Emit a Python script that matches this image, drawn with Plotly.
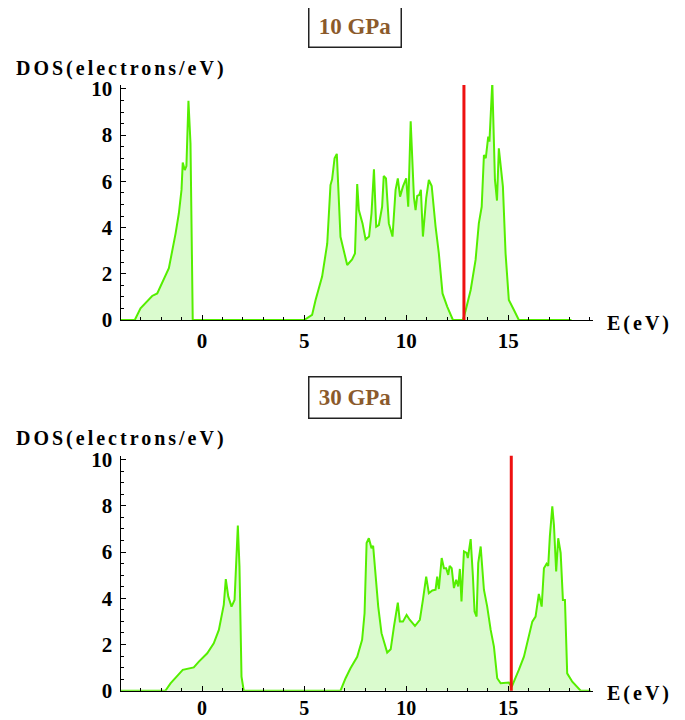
import plotly.graph_objects as go

# ---------------- data ----------------
E_10 = [-4.0, -3.3, -3.02, -2.45, -2.2, -1.63, -1.3, -1.14, -1.01, -0.95, -0.85, -0.77, -0.67, -0.57, -0.46,
        5.0, 5.39, 5.56, 5.88, 6.13, 6.29, 6.37, 6.49, 6.6, 6.78, 7.11, 7.35, 7.49, 7.6, 7.68, 7.86, 8.01,
        8.18, 8.3, 8.42, 8.53, 8.66, 8.82, 8.9, 9.01, 9.15, 9.33, 9.48, 9.59, 9.7, 9.84, 10.0, 10.1, 10.22,
        10.38, 10.46, 10.54, 10.64, 10.72, 10.82, 10.98, 11.11, 11.25, 11.44, 11.6, 11.78, 12.01, 12.29,
        12.78, 12.91, 13.16, 13.4, 13.56, 13.7, 13.81, 13.9, 14.02, 14.08, 14.22, 14.35, 14.45, 14.54,
        14.74, 14.87, 15.03, 15.28, 15.52, 18.1]
DOS_10 = [0.0, 0.0, 0.51, 1.04, 1.15, 2.24, 3.75, 4.62, 5.63, 6.81, 6.49, 6.66, 9.49, 7.65, 0.0,
          0.0, 0.22, 0.87, 1.88, 3.3, 5.84, 6.09, 7.0, 7.19, 3.6, 2.38, 2.62, 2.88, 5.88, 4.76, 4.18, 3.49,
          3.61, 4.62, 6.52, 4.04, 4.11, 4.9, 6.23, 6.13, 4.18, 3.61, 5.63, 6.13, 5.34, 5.77, 6.13, 4.9, 8.6,
          5.3, 4.76, 5.37, 5.41, 5.63, 3.61, 5.27, 6.06, 5.8, 4.04, 2.88, 1.15, 0.58, 0.0,
          0.0, 0.4, 1.3, 2.6, 4.18, 4.9, 7.14, 7.0, 7.94, 7.72, 10.3, 6.06, 5.17, 7.43,
          5.77, 2.88, 0.87, 0.43, 0.0, 0.0]

E_30 = [-4.0, -1.8, -1.55, -1.23, -0.95, -0.41, -0.16, 0.25, 0.57, 0.82, 0.98, 1.06, 1.16, 1.28, 1.44,
        1.59, 1.75, 1.83, 1.93, 2.04,
        6.78, 7.03, 7.27, 7.6, 7.84, 7.96, 8.06, 8.17, 8.3, 8.38, 8.63, 8.79, 9.07, 9.24, 9.4, 9.59, 9.69,
        9.84, 10.02, 10.17, 10.43, 10.67, 10.82, 10.98, 11.11, 11.28, 11.44, 11.52, 11.6, 11.74, 11.85,
        11.96, 12.06, 12.13, 12.23, 12.34, 12.45, 12.55, 12.63, 12.71, 12.83, 12.96, 13.02, 13.16, 13.27,
        13.35, 13.45, 13.53, 13.65, 13.81, 13.97, 14.14, 14.3, 14.46, 14.63, 15.03, 15.17, 15.28, 15.52,
        15.77, 15.98, 16.18, 16.34, 16.5, 16.64, 16.75, 16.88, 16.96, 17.04, 17.16, 17.24, 17.35, 17.45,
        17.57, 17.68, 17.78, 17.89, 18.14, 18.55, 19.04]
DOS_30 = [0.0, 0.0, 0.32, 0.61, 0.9, 1.01, 1.26, 1.62, 2.05, 2.63, 3.35, 3.71, 4.83, 4.08, 3.64,
          3.93, 7.15, 5.38, 0.61, 0.0,
          0.0, 0.54, 0.97, 1.47, 2.2, 3.35, 6.39, 6.6, 6.17, 6.27, 3.64, 2.49, 1.65, 1.79, 2.77, 3.81, 2.99,
          2.99, 3.28, 3.07, 2.8, 3.07, 3.93, 4.94, 4.22, 4.34, 4.37, 4.94, 4.4, 5.74, 5.3,
          5.3, 5.01, 5.4, 5.3, 4.44, 4.8, 4.51, 5.27, 3.86, 6.03, 5.96, 5.74, 6.56, 4.94,
          3.43, 3.21, 5.52, 6.24, 4.37, 3.64, 2.63, 1.91, 0.54, 0.32, 0.35, 0.17, 0.39, 0.9,
          1.47, 2.2, 2.99, 3.21, 4.19, 3.64, 5.3, 5.49, 5.4, 6.68, 7.98, 7.18, 5.16, 6.6,
          5.96, 3.93, 3.93, 0.75, 0.39, 0.0, 0.0]

FERMI = [12.83, 15.15]
PANEL_TITLES = ["10 GPa", "30 GPa"]
X_TICKS = [0, 5, 10, 15]
Y_TICKS = [0, 2, 4, 6, 8, 10]
X_RANGE = [-4, 19.14]
Y_RANGE = [0, 10.17]

# ---------------- style ----------------
LINE = "#55ee00"
FILL = "rgba(205,250,190,0.75)"
RED = "#ee1111"
BROWN = "#8b5a2b"
FONT = "Liberation Serif"

W, H = 685, 720
OFF = 8  # page body margin


def px(x):
    return (x - OFF) / W


def py(y):
    return (H - (y - OFF)) / H


x_dom = [px(120.5), px(592.7)]
y_doms = [[py(320), py(85)], [py(690.7), py(455.7)]]

fig = go.Figure()
series = [(E_10, DOS_10), (E_30, DOS_30)]
for i, (ex, dy) in enumerate(series):
    sfx = "" if i == 0 else str(i + 1)
    fig.add_trace(go.Scatter(
        x=ex, y=dy, mode="lines", line=dict(color=LINE, width=2),
        fill="tozeroy", fillcolor=FILL, xaxis="x" + sfx, yaxis="y" + sfx,
        showlegend=False, hoverinfo="skip"))

tickfont = dict(family=FONT, size=21, color="black", weight=700)
xfont_bottom = dict(family=FONT, size=20, color="black", weight=700)
for i in range(2):
    sfx = "" if i == 0 else str(i + 1)
    fig.layout["xaxis" + sfx] = dict(
        domain=x_dom, range=X_RANGE, anchor="y" + sfx, tickvals=X_TICKS,
        ticks="inside", ticklen=5, tickwidth=1, tickcolor="black",
        showline=True, linecolor="black", linewidth=1, showgrid=False, zeroline=False,
        tickfont=tickfont if i == 0 else xfont_bottom,
        ticklabelstandoff=2 if i == 0 else -1, automargin=False,
        minor=dict(dtick=1, tick0=0, ticks="inside", ticklen=3, tickcolor="black", showgrid=False))
    fig.layout["yaxis" + sfx] = dict(
        domain=y_doms[i], range=Y_RANGE, anchor="x" + sfx, tickvals=Y_TICKS,
        ticks="inside", ticklen=5, tickwidth=1, tickcolor="black",
        showline=True, linecolor="black", linewidth=1, showgrid=False, zeroline=False,
        tickfont=tickfont, ticklabelstandoff=3, automargin=False,
        minor=dict(dtick=0.5, tick0=0, ticks="inside", ticklen=3, tickcolor="black", showgrid=False))

    # Fermi level line
    fig.add_shape(type="line", xref="x" + sfx, yref="y" + sfx + " domain",
                  x0=FERMI[i], x1=FERMI[i], y0=0, y1=1,
                  line=dict(color=RED, width=3))

    top_px = 85 if i == 0 else 455.7
    base_px = 320 if i == 0 else 690.7
    box_cy = 26 if i == 0 else 397.5
    # panel title box
    fig.add_annotation(
        x=px(355), y=py(box_cy), xref="paper", yref="paper",
        text="<b>" + PANEL_TITLES[i] + "</b>", showarrow=False,
        font=dict(family=FONT, size=23, color=BROWN),
        bordercolor="#222222", borderwidth=1.5, borderpad=1,
        width=89, height=38, bgcolor="white", xanchor="center", yanchor="middle")
    # y axis label
    fig.add_annotation(
        x=px(14), y=py(top_px - 17), xref="paper", yref="paper",
        text='<b><span style="letter-spacing:3px">DOS(electrons/eV)</span></b>',
        showarrow=False, font=dict(family=FONT, size=20, color="black"),
        xanchor="left", yanchor="middle")
    # x axis label
    fig.add_annotation(
        x=px(605), y=py(base_px + 3), xref="paper", yref="paper",
        text='<b><span style="letter-spacing:3px">E(eV)</span></b>',
        showarrow=False, font=dict(family=FONT, size=20, color="black"),
        xanchor="left", yanchor="middle")

fig.update_layout(
    width=W, height=H, margin=dict(l=0, r=0, t=0, b=0, autoexpand=False),
    paper_bgcolor="white", plot_bgcolor="white", showlegend=False)

fig.write_html("out.html")
